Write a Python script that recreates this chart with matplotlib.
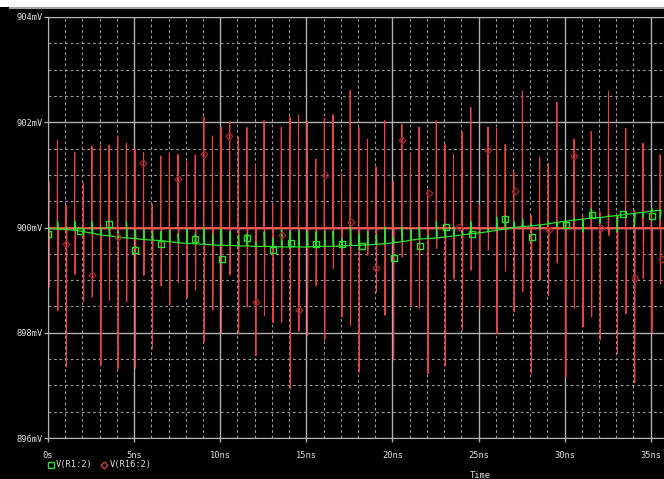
import numpy as np
import matplotlib
matplotlib.use("Agg")
import matplotlib.pyplot as plt
from matplotlib.lines import Line2D
from matplotlib.patches import Rectangle

# --- data (time in ns, voltage in mV) ---
spike_t = [0.05, 0.55, 1.05, 1.55, 2.05, 2.55, 3.05, 3.55, 4.05, 4.55,
           5.05, 5.55, 6.05, 6.55, 7.05, 7.55, 8.05, 8.55, 9.05, 9.55,
           10.05, 10.55, 11.05, 11.55, 12.05, 12.55, 13.05, 13.55, 14.05, 14.55,
           15.05, 15.55, 16.05, 16.55, 17.05, 17.55, 18.05, 18.55, 19.05, 19.55,
           20.05, 20.55, 21.05, 21.55, 22.05, 22.55, 23.05, 23.55, 24.05, 24.55,
           25.05, 25.55, 26.05, 26.55, 27.05, 27.55, 28.05, 28.55, 29.05, 29.55,
           30.05, 30.55, 31.05, 31.55, 32.05, 32.55, 33.05, 33.55, 34.05, 34.55,
           35.05, 35.55]

# V(R16:2) spike maxima / minima
red_top = [900.87, 901.65, 900.42, 901.43, 900.84, 901.55, 901.57, 901.57, 901.72, 901.60,
           901.49, 901.43, 900.44, 901.36, 901.41, 901.39, 901.25, 901.38, 902.10,
           901.74, 901.91, 902.01, 901.72, 901.90, 901.19, 902.03, 900.44, 901.91, 902.10,
           902.14, 902.01, 901.30, 902.07, 902.14, 901.03, 902.61,
           901.90,
           901.68, 901.15, 902.04, 900.87, 901.96, 901.41, 901.91, 900.71, 902.03, 901.58,
           901.38, 901.82, 902.28, 900.42, 901.91, 901.88, 901.58, 901.06,
           902.59, 900.23, 901.34, 901.22, 902.38, 900.04, 901.68, 900.23, 901.83, 900.30,
           902.59, 900.23, 901.88, 900.33, 901.60, 900.36, 901.38]
red_bot = [898.87, 898.42, 897.35, 899.11, 898.59, 898.68, 897.38, 898.62, 897.32, 898.59,
           897.33, 899.09, 897.70, 898.89, 898.52, 898.95, 898.66, 898.81, 897.83,
           898.43, 898.00, 899.10, 897.98, 898.49, 897.56, 898.33, 898.19, 898.20, 896.94,
           898.03, 897.94, 898.89, 897.86, 899.22, 898.30, 898.14,
           897.25,
           899.47, 898.77, 898.33, 897.48, 899.44, 898.51, 898.46, 897.22, 899.60, 897.37,
           899.02, 898.05, 899.19, 898.45, 899.57, 897.98, 899.17, 898.40,
           898.78, 897.22, 899.00, 898.71, 899.33, 897.16, 898.46, 898.11, 898.30, 897.86,
           899.85, 897.60, 898.36, 897.05, 899.03, 898.00, 898.93]
red_base = 900.0

# V(R1:2) level at each spike time and the small glitch it makes
green_v = [899.98, 899.97, 899.96, 899.95, 899.92, 899.89, 899.86, 899.84, 899.82, 899.80,
           899.79, 899.77, 899.76, 899.75, 899.73, 899.71, 899.70, 899.69, 899.68,
           899.67, 899.66, 899.66, 899.65, 899.65, 899.64, 899.64, 899.64, 899.63, 899.63,
           899.63, 899.63, 899.64, 899.64, 899.64, 899.65, 899.66,
           899.66,
           899.67, 899.68, 899.69, 899.71, 899.73, 899.76, 899.78, 899.79, 899.80, 899.82,
           899.84, 899.86, 899.88, 899.90, 899.92, 899.95, 899.97, 900.00,
           900.02, 900.03, 900.05, 900.07, 900.10, 900.12, 900.14, 900.16, 900.18, 900.19,
           900.21, 900.23, 900.25, 900.27, 900.29, 900.31, 900.33]
green_tick = [900.00, 900.11, 900.01, 900.12, 899.98, 900.11, 900.01, 900.01, 899.92, 900.11,
              899.95, 899.97, 899.92, 899.92, 899.95, 899.88, 899.98, 899.88, 899.98,
              899.88, 899.98, 899.92, 899.85, 899.88, 899.73, 899.92, 899.79, 899.95, 899.92,
              899.95, 899.92, 899.92, 899.93, 899.93, 899.79, 900.01,
              899.88,
              899.92, 899.87, 900.01, 899.82, 900.01, 899.98, 900.01, 899.85, 900.11, 899.98,
              900.01, 899.92, 900.11, 899.92, 899.98, 900.20, 900.20, 900.11,
              900.17, 900.08, 899.98, 900.11, 900.01, 900.01, 900.17, 899.92, 900.36, 900.08,
              900.23, 899.92, 900.30, 900.01, 900.20, 900.36, 900.17]

# marker points
sq_t = [0.0, 1.83, 3.53, 5.04, 6.55, 8.53, 10.08, 11.55, 13.06, 14.10, 15.57, 17.08,
        18.23, 20.08, 21.59, 23.10, 24.61, 26.55, 28.10, 30.07, 31.60, 33.38, 35.06]
sq_v = [899.87, 899.94, 900.06, 899.58, 899.69, 899.79, 899.41, 899.80, 899.58, 899.71,
        899.69, 899.69, 899.65, 899.42, 899.64, 900.01, 899.87, 900.16, 899.82, 900.05,
        900.23, 900.25, 900.22]
dm_t = [1.02, 2.55, 4.06, 5.53, 7.54, 9.05, 10.54, 12.05, 13.56, 14.57, 16.11, 17.58,
        19.07, 20.57, 22.10, 23.88, 25.56, 27.12, 29.08, 30.57, 32.12, 34.08, 35.63]
dm_v = [899.68, 899.09, 899.82, 901.23, 900.93, 901.40, 901.74, 898.59, 899.85, 898.43,
        900.99, 900.11, 899.23, 901.66, 900.65, 900.01, 901.48, 900.70, 899.96, 901.36,
        899.99, 899.04, 899.40]

x_ticks = [0, 5, 10, 15, 20, 25, 30, 35]
x_labels = ["0s", "5ns", "10ns", "15ns", "20ns", "25ns", "30ns", "35ns"]
y_ticks = [896, 898, 900, 902, 904]
y_labels = ["896mV", "898mV", "900mV", "902mV", "904mV"]

# --- build the traces ---
red_x, red_y = [0.0], [red_base]
for t, hi, lo in zip(spike_t, red_top, red_bot):
    red_x += [t - 0.02, t, t + 0.02, t + 0.05]
    red_y += [red_base, hi, lo, red_base]
red_x.append(40.0)
red_y.append(red_base)

grn_x, grn_y = [], []
for t, g, k in zip(spike_t, green_v, green_tick):
    grn_x += [t, t + 0.005, t + 0.05]
    grn_y += [g, k, g]

# --- figure ---
W, H = 664, 479
fig = plt.figure(figsize=(W / 100, H / 100), dpi=100, facecolor="black")
fig.patches.append(Rectangle((0, 1 - 7 / H), 1, 7 / H, transform=fig.transFigure,
                             facecolor="white", edgecolor="none"))
fig.lines.append(Line2D([10 / W, 1], [1 - 7.5 / H] * 2, transform=fig.transFigure,
                        color="#a0a0a0", lw=1.5))

ax = fig.add_axes([48 / W, 1 - 438 / H, 688.8 / W, 421 / H], facecolor="black")
ax.set_xlim(0, 40)
ax.set_ylim(896, 904)

# grid: dashed minor, solid major
ax.set_xticks(np.arange(0, 41, 1), minor=True)
ax.set_yticks(np.arange(896, 904.01, 0.5), minor=True)
ax.grid(which="minor", color="#9a9a9a", lw=0.8, ls=(0, (2.5, 2.5)))
ax.grid(which="major", color="#b0b0b0", lw=1.0, ls="-")
ax.set_axisbelow(True)

ax.set_xticks(x_ticks)
ax.set_xticklabels(x_labels)
ax.set_yticks(y_ticks)
ax.set_yticklabels(y_labels)
ax.tick_params(which="major", colors="#b0b0b0", length=3, width=1, labelcolor="#e0e0e0",
               labelsize=6.3)
ax.tick_params(axis="x", which="major", pad=6)
ax.tick_params(axis="y", which="major", pad=1)
ax.tick_params(which="minor", length=0)
for lab in ax.get_xticklabels() + ax.get_yticklabels():
    lab.set_family("DejaVu Sans Mono")
for s in ax.spines.values():
    s.set_color("#b0b0b0")

ax.plot(red_x, red_y, color="#e84444", lw=0.75)
ax.axhline(red_base, color="#ff5c5c", lw=1.0)
ax.plot(grn_x, grn_y, color="#30e030", lw=0.9)
ax.plot(sq_t, sq_v, "s", mfc="none", mec="#30e030", mew=1.0, ms=4.5)
ax.plot(dm_t, dm_v, "D", mfc="none", mec="#9a2828", mew=1.0, ms=3.5)

# legend row under the axis
fy = 1 - 465 / H
fig.lines.append(Line2D([51 / W], [fy], transform=fig.transFigure, marker="s", ms=4,
                        mfc="none", mec="#30e030", mew=1.0, ls="none"))
fig.text(56 / W, fy, "V(R1:2)", color="#e0e0e0", fontsize=6.3, family="DejaVu Sans Mono",
         va="center", ha="left")
fig.lines.append(Line2D([104 / W], [fy], transform=fig.transFigure, marker="D", ms=3.5,
                        mfc="none", mec="#c04040", mew=1.0, ls="none"))
fig.text(110 / W, fy, "V(R16:2)", color="#e0e0e0", fontsize=6.3, family="DejaVu Sans Mono",
         va="center", ha="left")
fig.text(480 / W, 1 - 476 / H, "Time", color="#e0e0e0", fontsize=6.3,
         family="DejaVu Sans Mono", va="center", ha="center")

fig.savefig("out.png", dpi=100, facecolor="black")
